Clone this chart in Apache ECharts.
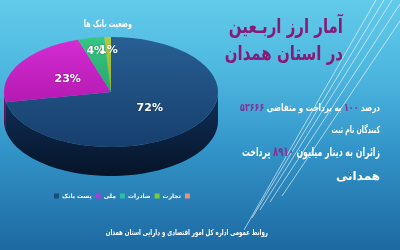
<!DOCTYPE html>
<html>
<head>
<meta charset="utf-8">
<script src="https://cdn.jsdelivr.net/npm/echarts@6/dist/echarts.min.js"></script>
<style>
  html, body { margin: 0; padding: 0; }
  #chart { width: 400px; height: 250px; }
</style>
</head>
<body>
<div id="chart"></div>
<script>
// Bank share of Arbaeen currency payments (percent)
const banks = ['پست بانک', 'ملی', 'صادرات', 'تجارت', ' '];
const shares = [72, 23, 4, 1, 0];

// Headline figures
const applicants = '۵۲۶۶۶';
const percentPaid = '۱۰۰';
const paidMillionDinar = '۸۹۱۰';

const pieTitle = 'وضعیت بانک ها';
const headingLines = ['آمار ارز اربـعین', 'در استان همدان'];
const footer = 'روابط عمومی اداره کل امور اقتصادی و دارایی استان همدان';

// Slice colours: top face (light, dark), side wall, legend swatch
const topLight = ['#285f93', '#d42cd2', '#38c684', '#b0cc40', '#e98a73'];
const topDark  = ['#163f6d', '#b51ab3', '#27a86c', '#93b02c', '#d0705a'];
const wallTop  = ['#10305a', '#7c127a', '#1a7048', '#627820', '#9a4a3a'];
const wallBot  = ['#061428', '#4a0a48', '#0e4028', '#3a4610', '#5a2a20'];
const swatch   = ['#1c4a7a', '#a23fd6', '#2cc0a6', '#7ccc3a', '#ee8f76'];

const FONT = '"DejaVu Sans", sans-serif';
const CX = 111, CY = 92, RX = 107, RY = 55, DEPTH = 29;

const total = shares.reduce((a, b) => a + b, 0);
function startShare(i) {
  let s = 0;
  for (let k = 0; k < i; k++) s += shares[k];
  return s;
}

function ellipsePoint(a, dy) {
  return [CX + RX * Math.cos(a), CY + RY * Math.sin(a) + dy];
}

function sliceRenderer(i) {
  return function (params, api) {
    const v = api.value(0);
    if (!v) return { type: 'group', children: [] };
    const a0 = startShare(i) / total * Math.PI * 2 - Math.PI / 2;
    const a1 = a0 + v / total * Math.PI * 2;
    const children = [];

    // visible (front) part of the cylinder wall
    const lo = Math.max(a0, 0), hi = Math.min(a1, Math.PI);
    if (hi > lo) {
      const n = 48, pts = [];
      for (let k = 0; k <= n; k++) pts.push(ellipsePoint(lo + (hi - lo) * k / n, 0));
      for (let k = n; k >= 0; k--) pts.push(ellipsePoint(lo + (hi - lo) * k / n, DEPTH));
      children.push({
        type: 'polygon',
        z2: 1,
        shape: { points: pts },
        style: {
          fill: new echarts.graphic.LinearGradient(0, 0, 0, 1, [
            { offset: 0, color: wallTop[i] },
            { offset: 1, color: wallBot[i] }
          ])
        }
      });
    }

    // top face: circular sector squashed into the ellipse
    children.push({
      type: 'sector',
      z2: 10,
      x: CX,
      y: CY,
      scaleY: RY / RX,
      shape: { cx: 0, cy: 0, r0: 0, r: RX, startAngle: a0, endAngle: a1, clockwise: true },
      style: {
        fill: new echarts.graphic.LinearGradient(0, 0, 0, 1, [
          { offset: 0, color: topLight[i] },
          { offset: 1, color: topDark[i] }
        ])
      }
    });

    // percentage label
    const mid = (a0 + a1) / 2;
    const f = v < 10 ? 0.76 : 0.47;
    children.push({
      type: 'text',
      z2: 20,
      x: CX + RX * f * Math.cos(mid),
      y: CY + RY * f * Math.sin(mid),
      style: {
        text: v + '%',
        fill: '#ffffff',
        font: 'bold 11px ' + FONT,
        align: 'center',
        verticalAlign: 'middle',
        textShadowColor: 'rgba(0,0,0,0.35)',
        textShadowBlur: 2
      }
    });
    return { type: 'group', children: children };
  };
}

// words placed left-to-right, each word shaped right-to-left
function ltr(words) { return words.split(' ').join(' \u200e'); }

const chart = echarts.init(document.getElementById('chart'), null, { renderer: 'canvas' });

const series = banks.map((name, i) => ({
  type: 'custom',
  name: name,
  coordinateSystem: 'none',
  silent: true,
  animation: false,
  itemStyle: { color: swatch[i] },
  data: [[shares[i]]],
  renderItem: sliceRenderer(i)
}));

const lineStyle = { stroke: 'rgba(255,255,255,0.75)', lineWidth: 0.8 };
const diag = [
  [376, 0, 244, 230],
  [384, 0, 252, 218],
  [392, 0, 260, 210],
  [400, 4, 270, 202],
  [402, 18, 282, 196]
];

function label(x, y, scaleX, style) {
  return {
    type: 'text', x: x, y: y, z: 5, scaleX: scaleX,
    style: Object.assign({ align: 'right', verticalAlign: 'middle', fill: '#ffffff' }, style)
  };
}

chart.setOption({
  backgroundColor: {
    type: 'linear', x: 0, y: 0, x2: 0, y2: 1,
    colorStops: [
      { offset: 0, color: '#62cbea' },
      { offset: 0.3, color: '#4db6df' },
      { offset: 0.6, color: '#3294c8' },
      { offset: 1, color: '#1d69a2' }
    ]
  },
  legend: {
    data: banks,
    left: 54,
    top: 193,
    icon: 'rect',
    itemWidth: 5,
    itemHeight: 5,
    itemGap: 4,
    padding: 0,
    selectedMode: false,
    textStyle: { color: '#ffffff', fontSize: 6, fontWeight: 'bold', fontFamily: FONT, padding: [0, 0, 0, -2] }
  },
  graphic: [
    ...diag.map(d => ({
      type: 'line', silent: true, z: 1,
      shape: { x1: d[0], y1: d[1], x2: d[2], y2: d[3] },
      style: lineStyle
    })),
    label(132, 24, 0.64, { text: pieTitle, font: 'bold 10px ' + FONT }),
    label(343, 28, 0.75, { text: headingLines[0], fill: '#871a78', font: 'bold 20px ' + FONT }),
    label(343, 55, 0.75, { text: headingLines[1], fill: '#871a78', font: 'bold 20px ' + FONT }),
    label(380, 108, 0.72, {
      text: '{n|' + applicants + '}{w| \u200e' + ltr('متقاضی و پرداخت به') + ' \u200e}{n|' + percentPaid + '}{w| \u200eدرصد}',
      rich: {
        n: { fill: '#8a2c96', font: 'bold 11px ' + FONT },
        w: { fill: '#ffffff', font: 'bold 10px ' + FONT }
      }
    }),
    label(380, 130, 0.62, { text: ltr('ثبت نام کنندگان'), font: 'bold 10px ' + FONT }),
    label(380, 153, 0.65, {
      text: '{w|پرداخت \u200e}{n|' + paidMillionDinar + '}{w| \u200e' + ltr('میلیون دینار به زائران') + '}',
      rich: {
        n: { fill: '#8a2c96', font: 'bold 13px ' + FONT },
        w: { fill: '#ffffff', font: 'bold 12px ' + FONT }
      }
    }),
    label(380, 177, 1, { text: 'همدانی', font: 'bold 12px ' + FONT }),
    label(268, 233, 0.68, { text: footer, font: 'bold 8px ' + FONT })
  ],
  series: series
});
</script>
</body>
</html>
